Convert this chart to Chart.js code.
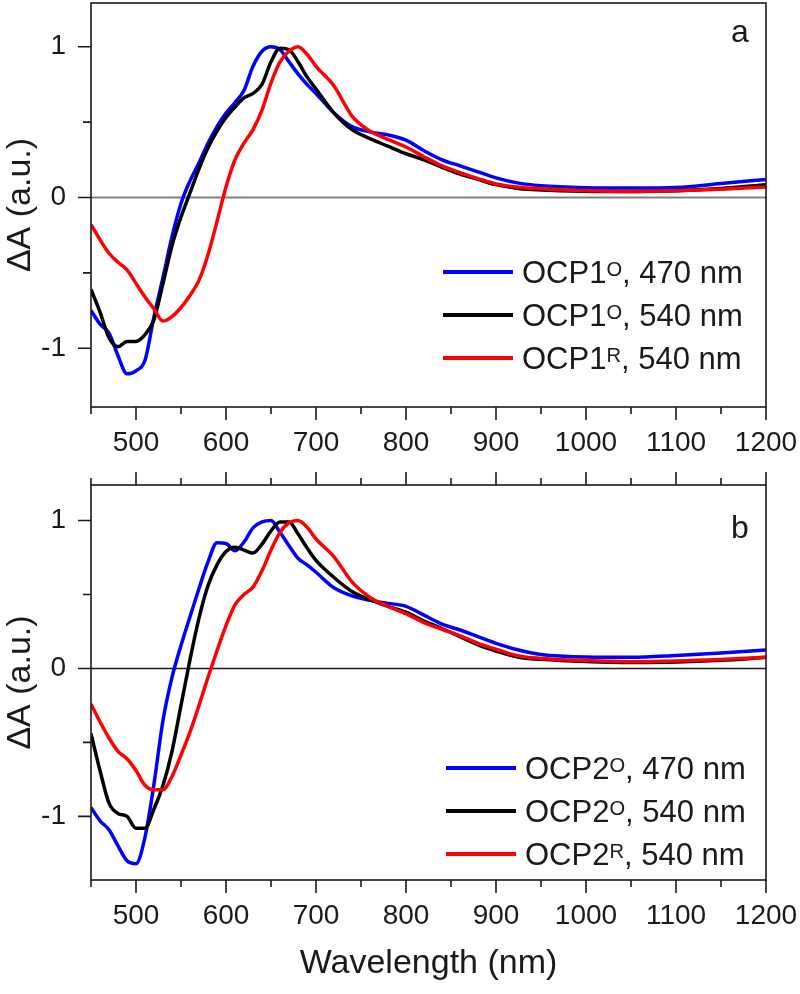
<!DOCTYPE html>
<html>
<head>
<meta charset="utf-8">
<script src="https://cdn.jsdelivr.net/npm/chart.js@4.4.1/dist/chart.umd.min.js"></script>
<style>
  body { margin: 0; background: #fff; }
  #page { position: relative; width: 800px; height: 994px; font-family: 'Liberation Sans', Arial, sans-serif; color: #1a1a1a; }
  canvas { position: absolute; left: 0; }
  .panel-tag { position: absolute; font-size: 32px; line-height: 32px; }
  .leg-line { position: absolute; height: 4px; width: 70px; }
  .leg-text { position: absolute; font-size: 31px; line-height: 31px; white-space: nowrap; }
  .leg-text sup { font-size: 0.65em; line-height: 0; vertical-align: 7px; }
</style>
</head>
<body>
<div id="page">
  <canvas id="chartA" width="800" height="460" style="top:0"></canvas>
  <canvas id="chartB" width="800" height="534" style="top:460px"></canvas>
  <div class="panel-tag" style="left:731px;top:15px">a</div>
  <div class="panel-tag" style="left:731px;top:511px">b</div>
</div>
<script>
// wavelength grid shared by every trace (nm)
const wavelength = [450, 460, 470, 480, 490, 500, 510, 520, 530, 540, 550, 560, 570, 580, 590,
  600, 610, 620, 630, 640, 650, 660, 670, 680, 690, 700,
  720, 740, 760, 780, 800, 820, 840, 860, 880, 900,
  925, 950, 1000, 1050, 1100, 1150, 1200];

// panel a - OCP1
const ocp1O_470 = [-0.75, -0.84, -0.90, -1.05, -1.17, -1.15, -1.08, -0.79, -0.53, -0.26, -0.04, 0.11, 0.23, 0.36, 0.47,
  0.56, 0.63, 0.71, 0.87, 0.97, 1.00, 0.98, 0.90, 0.82, 0.75, 0.69,
  0.56, 0.47, 0.435, 0.415, 0.38, 0.31, 0.25, 0.21, 0.17, 0.13,
  0.095, 0.078, 0.065, 0.062, 0.066, 0.092, 0.12];
const ocp1O_540 = [-0.61, -0.76, -0.93, -0.99, -0.955, -0.955, -0.91, -0.81, -0.57, -0.32, -0.13, 0.03, 0.19, 0.33, 0.44,
  0.53, 0.60, 0.66, 0.69, 0.75, 0.90, 0.99, 0.98, 0.90, 0.80, 0.72,
  0.56, 0.45, 0.39, 0.34, 0.29, 0.25, 0.20, 0.155, 0.12, 0.085,
  0.06, 0.05, 0.042, 0.04, 0.045, 0.06, 0.085];
const ocp1R_540 = [-0.18, -0.28, -0.37, -0.43, -0.48, -0.57, -0.66, -0.74, -0.82, -0.79, -0.73, -0.65, -0.55, -0.38, -0.16,
  0.07, 0.25, 0.36, 0.45, 0.58, 0.76, 0.90, 0.97, 1.00, 0.95, 0.87,
  0.74, 0.54, 0.44, 0.385, 0.335, 0.27, 0.21, 0.165, 0.125, 0.09,
  0.068, 0.058, 0.045, 0.04, 0.045, 0.055, 0.07];

// panel b - OCP2
const ocp2O_470 = [-0.94, -1.03, -1.09, -1.20, -1.30, -1.32, -1.14, -0.78, -0.35, -0.06, 0.155, 0.35, 0.54, 0.72, 0.85,
  0.845, 0.795, 0.855, 0.95, 0.99, 1.00, 0.92, 0.83, 0.745, 0.70, 0.65,
  0.545, 0.49, 0.46, 0.44, 0.42, 0.36, 0.30, 0.26, 0.215, 0.17,
  0.125, 0.095, 0.078, 0.076, 0.088, 0.105, 0.125];
const ocp2O_540 = [-0.44, -0.69, -0.91, -0.98, -1.00, -1.08, -1.08, -0.95, -0.79, -0.56, -0.25, 0.06, 0.34, 0.56, 0.70,
  0.79, 0.82, 0.80, 0.78, 0.84, 0.93, 0.99, 0.99, 0.91, 0.815, 0.73,
  0.615, 0.52, 0.465, 0.42, 0.38, 0.32, 0.27, 0.215, 0.16, 0.118,
  0.076, 0.062, 0.047, 0.04, 0.043, 0.055, 0.075];
const ocp2R_540 = [-0.24, -0.36, -0.47, -0.56, -0.61, -0.69, -0.79, -0.82, -0.82, -0.73, -0.585, -0.43, -0.25, -0.06, 0.12,
  0.29, 0.43, 0.50, 0.55, 0.66, 0.80, 0.92, 0.985, 1.00, 0.955, 0.875,
  0.755, 0.585, 0.48, 0.42, 0.37, 0.31, 0.265, 0.22, 0.17, 0.13,
  0.085, 0.068, 0.053, 0.046, 0.05, 0.06, 0.075];

// legend pieces
const stateA = ['O', 'O', 'R'];
const pumpNm = [470, 540, 540];
const seriesColors = ['#0000ff', '#000000', '#ff0000'];

// axis ticks
const xMajorTicks = [500, 600, 700, 800, 900, 1000, 1100, 1200];
const xMinorTicks = [450, 550, 650, 750, 850, 950, 1050, 1150];
const yMajorTicks = [-1, 0, 1];
const yMinorTicks = [-0.5, 0.5];

const FONT = "'Liberation Sans', Arial, sans-serif";
Chart.defaults.font.family = FONT;
Chart.defaults.color = '#1a1a1a';

// frame, zero line and outward ticks
const framePlugin = {
  id: 'frame',
  beforeDatasetsDraw(chart, args, o) {
    const {ctx, chartArea: a, scales: {y}} = chart;
    const y0 = y.getPixelForValue(0);
    ctx.save();
    ctx.strokeStyle = o.zeroColor;
    ctx.lineWidth = o.zeroWidth;
    ctx.beginPath();
    ctx.moveTo(a.left, y0);
    ctx.lineTo(a.right, y0);
    ctx.stroke();
    ctx.restore();
  },
  afterDatasetsDraw(chart, args, o) {
    const {ctx, chartArea: a, scales: {x, y}} = chart;
    ctx.save();
    ctx.strokeStyle = '#1a1a1a';
    ctx.lineWidth = 1.6;
    ctx.strokeRect(a.left, a.top, a.right - a.left, a.bottom - a.top);
    ctx.beginPath();
    const xt = (vals, len) => vals.forEach(v => {
      const px = x.getPixelForValue(v);
      ctx.moveTo(px, a.bottom);
      ctx.lineTo(px, a.bottom + len);
      if (o.topTicks) {
        ctx.moveTo(px, a.top);
        ctx.lineTo(px, a.top - len);
      }
    });
    const yt = (vals, len) => vals.forEach(v => {
      const py = y.getPixelForValue(v);
      ctx.moveTo(a.left, py);
      ctx.lineTo(a.left - len, py);
    });
    xt(xMajorTicks, 13);
    xt(xMinorTicks, 7);
    yt(yMajorTicks, 13);
    yt(yMinorTicks, 8);
    ctx.stroke();
    ctx.restore();
  }
};

function makePanel(id, series, cfg) {
  const datasets = series.map((vals, i) => ({
    data: wavelength.map((w, k) => ({x: w, y: vals[k]})),
    borderColor: seriesColors[i],
    borderWidth: 3.5,
    pointRadius: 0,
    cubicInterpolationMode: 'monotone',
    order: 3 - i
  }));
  return new Chart(document.getElementById(id), {
    type: 'line',
    data: {datasets},
    options: {
      responsive: false,
      animation: false,
      layout: {padding: {top: cfg.padTop, right: 34, left: 0, bottom: 0}},
      plugins: {
        legend: {display: false},
        tooltip: {enabled: false},
        frame: {zeroColor: cfg.zeroColor, zeroWidth: cfg.zeroWidth, topTicks: cfg.topTicks}
      },
      scales: {
        x: {
          type: 'linear', min: 450, max: 1200,
          afterBuildTicks: s => { s.ticks = xMajorTicks.map(v => ({value: v})); },
          afterFit: s => {
            s.height = cfg.xHeight;
            s.paddingLeft = s.paddingRight = s.paddingTop = s.paddingBottom = 0;
          },
          grid: {display: false, drawTicks: false},
          border: {display: false},
          ticks: {padding: 19, font: {size: 28}, maxRotation: 0, autoSkip: false, callback: v => String(v)},
          title: {
            display: cfg.xTitle,
            text: 'Wavelength (nm)',
            font: {size: 34},
            padding: {top: 0, bottom: 10}
          }
        },
        y: {
          min: cfg.yMin, max: cfg.yMax,
          afterBuildTicks: s => { s.ticks = yMajorTicks.map(v => ({value: v})); },
          afterFit: s => {
            s.width = 91;
            s.paddingLeft = s.paddingRight = s.paddingTop = s.paddingBottom = 0;
          },
          grid: {display: false, drawTicks: false},
          border: {display: false},
          ticks: {padding: 25, font: {size: 28}, callback: v => String(v)},
          title: {
            display: true,
            text: 'ΔA (a.u.)',
            font: {size: 34},
            padding: {top: 0, bottom: 0}
          }
        }
      }
    },
    plugins: [framePlugin]
  });
}

makePanel('chartA', [ocp1O_470, ocp1O_540, ocp1R_540], {
  padTop: 3, xHeight: 53, yMin: -1.39, yMax: 1.29,
  zeroColor: '#808080', zeroWidth: 2, topTicks: false, xTitle: false
});
makePanel('chartB', [ocp2O_470, ocp2O_540, ocp2R_540], {
  padTop: 25, xHeight: 114, yMin: -1.43, yMax: 1.24,
  zeroColor: '#1a1a1a', zeroWidth: 1.6, topTicks: true, xTitle: true
});

// legends inside the plot boxes
function addLegend(name, rowsY, lineLeft, textLeft) {
  const page = document.getElementById('page');
  rowsY.forEach((ry, i) => {
    const line = document.createElement('div');
    line.className = 'leg-line';
    line.style.left = lineLeft + 'px';
    line.style.top = (ry - 2) + 'px';
    line.style.background = seriesColors[i];
    page.appendChild(line);
    const txt = document.createElement('div');
    txt.className = 'leg-text';
    txt.style.left = textLeft + 'px';
    txt.style.top = (ry - 15) + 'px';
    txt.innerHTML = name + '<sup>' + stateA[i] + '</sup>, ' + pumpNm[i] + ' nm';
    page.appendChild(txt);
  });
}
addLegend('OCP1', [272, 315, 358], 443, 522);
addLegend('OCP2', [768, 811, 854], 446, 525);
</script>
</body>
</html>
